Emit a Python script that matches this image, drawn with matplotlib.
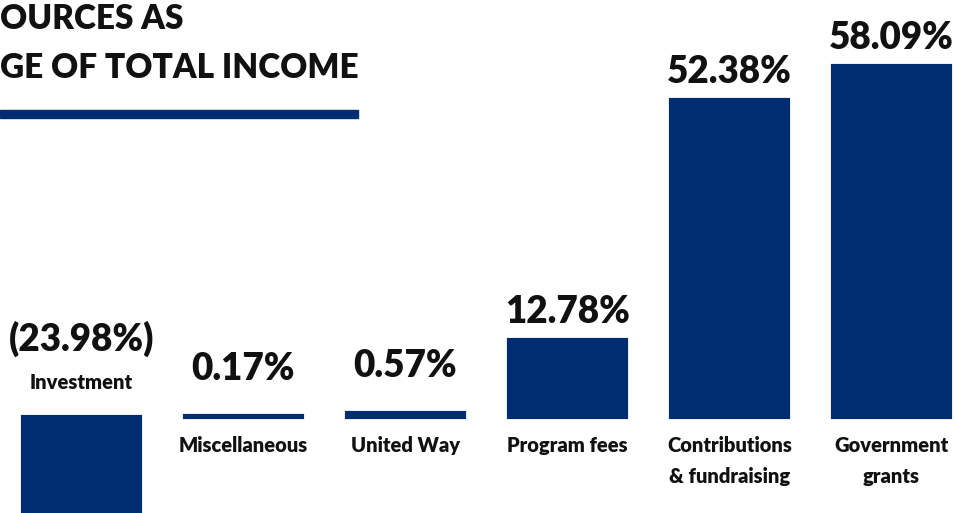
import matplotlib
matplotlib.use("Agg")
import matplotlib.pyplot as plt
from matplotlib.patches import Rectangle

categories = ["Investment", "Miscellaneous", "United Way", "Program fees",
              "Contributions\n& fundraising", "Government\ngrants"]
values = [-23.98, 0.17, 0.57, 12.78, 52.38, 58.09]
value_labels = ["(23.98%)", "0.17%", "0.57%", "12.78%", "52.38%", "58.09%"]
title_lines = ["OURCES AS", "GE OF TOTAL INCOME"]

navy = "#002d72"
ink = "#111111"
plt.rcParams['font.family'] = ['Lato', 'DejaVu Sans']

fig = plt.figure(figsize=(9.56, 5.13), dpi=100)
ax = fig.add_axes([0, 0, 1, 1])
ax.set_xlim(-0.503, 5.398)
ax.set_ylim(-15.9, 69.0)
ax.axis('off')

x = list(range(len(values)))
ax.bar(x, values, width=0.72, color=navy, edgecolor=navy, linewidth=3)

for i, v in enumerate(values):
    if v < 0:
        # negative bar: names go above the baseline
        ax.annotate(categories[i], (i, 0), xytext=(0, 34), textcoords='offset pixels',
                    ha='center', va='center', fontsize=14.5, fontweight='heavy', color=ink)
        ax.annotate(value_labels[i], (i, 0), xytext=(0, 60), textcoords='offset pixels',
                    ha='center', va='bottom', fontsize=26.5, fontweight='heavy', color=ink)
    else:
        gap = 30 if v < 1 else 11
        ax.annotate(value_labels[i], (i, v), xytext=(0, gap), textcoords='offset pixels',
                    ha='center', va='bottom', fontsize=26.5, fontweight='heavy', color=ink)
        ax.annotate(categories[i], (i, 0), xytext=(0, -19), textcoords='offset pixels',
                    ha='center', va='top', fontsize=14.5, fontweight='heavy', color=ink,
                    linespacing=1.75)

fig.text(0.0, 1 - 29 / 513, title_lines[0], ha='left', va='baseline',
         fontsize=24, fontweight='heavy', color=ink)
fig.text(0.0, 1 - 78 / 513, title_lines[1], ha='left', va='baseline',
         fontsize=24, fontweight='heavy', color=ink)
fig.add_artist(Rectangle((0, 1 - 118 / 513), 358 / 956, 8 / 513,
                         transform=fig.transFigure, color=navy))

fig.savefig("out.png", dpi=100)
